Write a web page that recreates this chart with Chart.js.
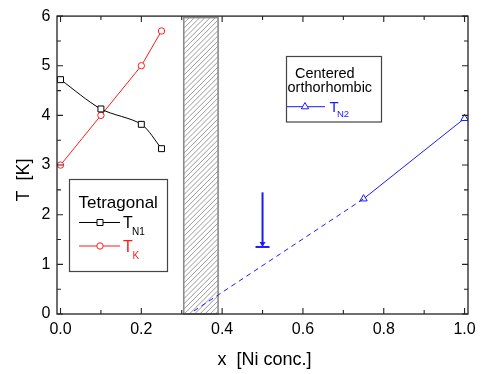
<!DOCTYPE html>
<html><head><meta charset="utf-8">
<script src="https://cdn.jsdelivr.net/npm/chart.js@4.4.1/dist/chart.umd.min.js"></script>
<style>html,body{margin:0;padding:0;background:#fff}canvas{display:block}</style>
</head><body>
<canvas id="c" width="482" height="374" style="width:482px;height:374px"></canvas>
<script>
// ---- data ----
const xN1 = [0, 0.1, 0.2, 0.25];
const tN1 = [4.72, 4.13, 3.82, 3.33];
const xK = [0, 0.1, 0.2, 0.25];
const tK = [3.0, 4.0, 5.0, 5.7];
const xN2 = [0.75, 1.0];
const tN2 = [2.32, 3.94];
const xN2dash = [0.33, 0.75];
const tN2dash = [0.06, 2.32];
const bandX = [0.305, 0.39];
const bandT = [0, 5.97];
const arrowX = 0.5;
const arrowT = [2.45, 1.35];
const xTicks = [0, 0.2, 0.4, 0.6, 0.8, 1.0];
const xMinor = [0.1, 0.3, 0.5, 0.7, 0.9];
const yTicks = [0, 1, 2, 3, 4, 5, 6];
const yMinor = [0.5, 1.5, 2.5, 3.5, 4.5, 5.5];
const xRange = [-0.0087, 1.0085];
const yRange = [0, 6];

const BLUE = '#1a1aff', RED = '#ff1a1a', BLACK = '#000000';
const FONT = "'Liberation Sans', Arial, sans-serif";

function pts(xs, ys) { return xs.map((x, i) => ({x: x, y: ys[i]})); }

function drawMarker(ctx, style, x, y, color) {
  ctx.save();
  ctx.strokeStyle = color; ctx.fillStyle = '#fff'; ctx.lineWidth = 1;
  ctx.beginPath();
  if (style === 'rect') { ctx.rect(x - 3, y - 3, 6, 6); }
  else if (style === 'circle') { ctx.arc(x, y, 3.2, 0, Math.PI * 2); }
  else { const r = 4.2; ctx.moveTo(x, y - r); ctx.lineTo(x + r * 0.866, y + r * 0.5); ctx.lineTo(x - r * 0.866, y + r * 0.5); ctx.closePath(); }
  ctx.fill(); ctx.stroke();
  ctx.restore();
}

const decor = {
  id: 'decor',
  beforeDatasetsDraw(chart) {
    const {ctx, scales: {x, y}} = chart;
    const x0 = x.getPixelForValue(bandX[0]), x1 = x.getPixelForValue(bandX[1]);
    const y0 = y.getPixelForValue(bandT[1]), y1 = y.getPixelForValue(bandT[0]);
    ctx.save();
    ctx.beginPath(); ctx.rect(x0, y0, x1 - x0, y1 - y0); ctx.clip();
    ctx.strokeStyle = '#9a9a9a'; ctx.lineWidth = 1;
    for (let k = -400; k < 400; k += 5.2) {
      ctx.beginPath();
      ctx.moveTo(x0 + k, y1);
      ctx.lineTo(x0 + k + (y1 - y0), y0);
      ctx.stroke();
    }
    ctx.restore();
    ctx.save();
    ctx.strokeStyle = '#8c8c8c'; ctx.lineWidth = 1.6;
    ctx.strokeRect(x0, y0, x1 - x0, y1 - y0);
    ctx.restore();
  },
  afterDatasetsDraw(chart) {
    const {ctx, chartArea: a, scales: {x, y}} = chart;
    // arrow
    const ax = x.getPixelForValue(arrowX);
    const ay0 = y.getPixelForValue(arrowT[0]), ay1 = y.getPixelForValue(arrowT[1]);
    ctx.save();
    ctx.strokeStyle = BLUE; ctx.fillStyle = BLUE; ctx.lineWidth = 2;
    ctx.beginPath(); ctx.moveTo(ax, ay0); ctx.lineTo(ax, ay1 - 3); ctx.stroke();
    ctx.beginPath(); ctx.moveTo(ax - 3, ay1 - 5); ctx.lineTo(ax + 3, ay1 - 5); ctx.lineTo(ax, ay1); ctx.closePath(); ctx.fill();
    ctx.beginPath(); ctx.moveTo(ax - 7, ay1); ctx.lineTo(ax + 7, ay1); ctx.stroke();
    ctx.restore();

    // frame
    ctx.save();
    ctx.strokeStyle = '#222'; ctx.lineWidth = 1.3;
    ctx.strokeRect(a.left, a.top, a.right - a.left, a.bottom - a.top);
    ctx.lineWidth = 1.1;
    ctx.beginPath();
    const tick = (vals, len) => {
      vals.forEach(v => {
        const px = x.getPixelForValue(v);
        ctx.moveTo(px, a.bottom); ctx.lineTo(px, a.bottom - len);
        ctx.moveTo(px, a.top); ctx.lineTo(px, a.top + len);
      });
    };
    const tickY = (vals, len) => {
      vals.forEach(v => {
        const py = y.getPixelForValue(v);
        ctx.moveTo(a.left, py); ctx.lineTo(a.left + len, py);
        ctx.moveTo(a.right, py); ctx.lineTo(a.right - len, py);
      });
    };
    tick(xTicks, 6); tick(xMinor, 4);
    tickY(yTicks, 6); tickY(yMinor, 4);
    ctx.stroke();
    ctx.restore();

    // axis titles
    ctx.save();
    ctx.fillStyle = '#000';
    ctx.font = '18px ' + FONT;
    ctx.textAlign = 'center'; ctx.textBaseline = 'alphabetic';
    ctx.fillText('x  [Ni conc.]', 264.5, 365);
    ctx.translate(28.5, 180); ctx.rotate(-Math.PI / 2);
    ctx.fillText('T  [K]', 0, 0);
    ctx.restore();

    // legend boxes
    ctx.save();
    ctx.strokeStyle = '#444'; ctx.lineWidth = 1.2;
    ctx.strokeRect(69.5, 179.5, 98, 92);
    ctx.strokeRect(286.5, 56.5, 95, 65.5);
    ctx.textBaseline = 'alphabetic'; ctx.textAlign = 'left';
    ctx.fillStyle = '#000';
    ctx.font = '17px ' + FONT; ctx.fillText('Tetragonal', 78.5, 208);
    ctx.lineWidth = 1;
    ctx.strokeStyle = BLACK; ctx.beginPath(); ctx.moveTo(79, 222.5); ctx.lineTo(120, 222.5); ctx.stroke();
    drawMarker(ctx, 'rect', 100, 222.5, BLACK);
    ctx.font = '16px ' + FONT; ctx.fillText('T', 123, 228);
    ctx.font = '10px ' + FONT; ctx.fillText('N1', 132, 235);
    ctx.strokeStyle = RED; ctx.beginPath(); ctx.moveTo(79, 246); ctx.lineTo(120, 246); ctx.stroke();
    drawMarker(ctx, 'circle', 100, 246, RED);
    ctx.fillStyle = RED;
    ctx.font = '16px ' + FONT; ctx.fillText('T', 123, 251.5);
    ctx.font = '10px ' + FONT; ctx.fillText('K', 132.5, 258.5);

    ctx.fillStyle = '#000';
    ctx.font = '14.5px ' + FONT;
    ctx.fillText('Centered', 295, 77.5);
    ctx.fillText('orthorhombic', 287.5, 92);
    ctx.strokeStyle = BLUE; ctx.beginPath(); ctx.moveTo(287, 106.7); ctx.lineTo(325, 106.7); ctx.stroke();
    drawMarker(ctx, 'tri', 305, 106.7, BLUE);
    ctx.fillStyle = BLUE;
    ctx.font = '15px ' + FONT; ctx.fillText('T', 329.5, 112);
    ctx.font = '9.5px ' + FONT; ctx.fillText('N2', 337, 117);
    ctx.restore();
  }
};

new Chart(document.getElementById('c'), {
  type: 'scatter',
  data: {
    datasets: [
      { data: pts(xN2dash, tN2dash), showLine: true, borderColor: BLUE, borderWidth: 1, borderDash: [5, 4], pointRadius: 0 },
      { data: pts(xN2, tN2), showLine: true, borderColor: BLUE, borderWidth: 1, pointStyle: 'triangle', pointRadius: 4.2, pointBackgroundColor: '#fff', pointBorderColor: BLUE, pointBorderWidth: 1 },
      { data: pts(xN1, tN1), showLine: true, borderColor: BLACK, borderWidth: 1, tension: 0.3, pointStyle: 'rect', pointRadius: 4.2, pointBackgroundColor: '#fff', pointBorderColor: BLACK, pointBorderWidth: 1 },
      { data: pts(xK, tK), showLine: true, borderColor: RED, borderWidth: 1, pointStyle: 'circle', pointRadius: 3.2, pointBackgroundColor: '#fff', pointBorderColor: RED, pointBorderWidth: 1 }
    ]
  },
  options: {
    responsive: false, animation: false, devicePixelRatio: 1,
    layout: { padding: { top: 7, right: 14, left: 0, bottom: 0 } },
    plugins: { legend: { display: false }, tooltip: { enabled: false } },
    scales: {
      x: {
        type: 'linear', min: xRange[0], max: xRange[1],
        grid: { display: false, drawTicks: false }, border: { display: false },
        afterBuildTicks: s => { s.ticks = xTicks.map(v => ({value: v})); },
        afterFit: s => { s.height = 60; },
        ticks: { padding: 6, color: '#000', font: { family: FONT, size: 16 }, maxRotation: 0, autoSkip: false, callback: v => Number(v).toFixed(1) }
      },
      y: {
        type: 'linear', min: yRange[0], max: yRange[1],
        grid: { display: false, drawTicks: false }, border: { display: false },
        afterBuildTicks: s => { s.ticks = yTicks.map(v => ({value: v})); },
        afterFit: s => { s.width = 57; },
        ticks: { padding: 6.5, color: '#000', font: { family: FONT, size: 16 }, autoSkip: false, callback: v => String(v) }
      }
    }
  },
  plugins: [decor]
});
</script>
</body></html>
